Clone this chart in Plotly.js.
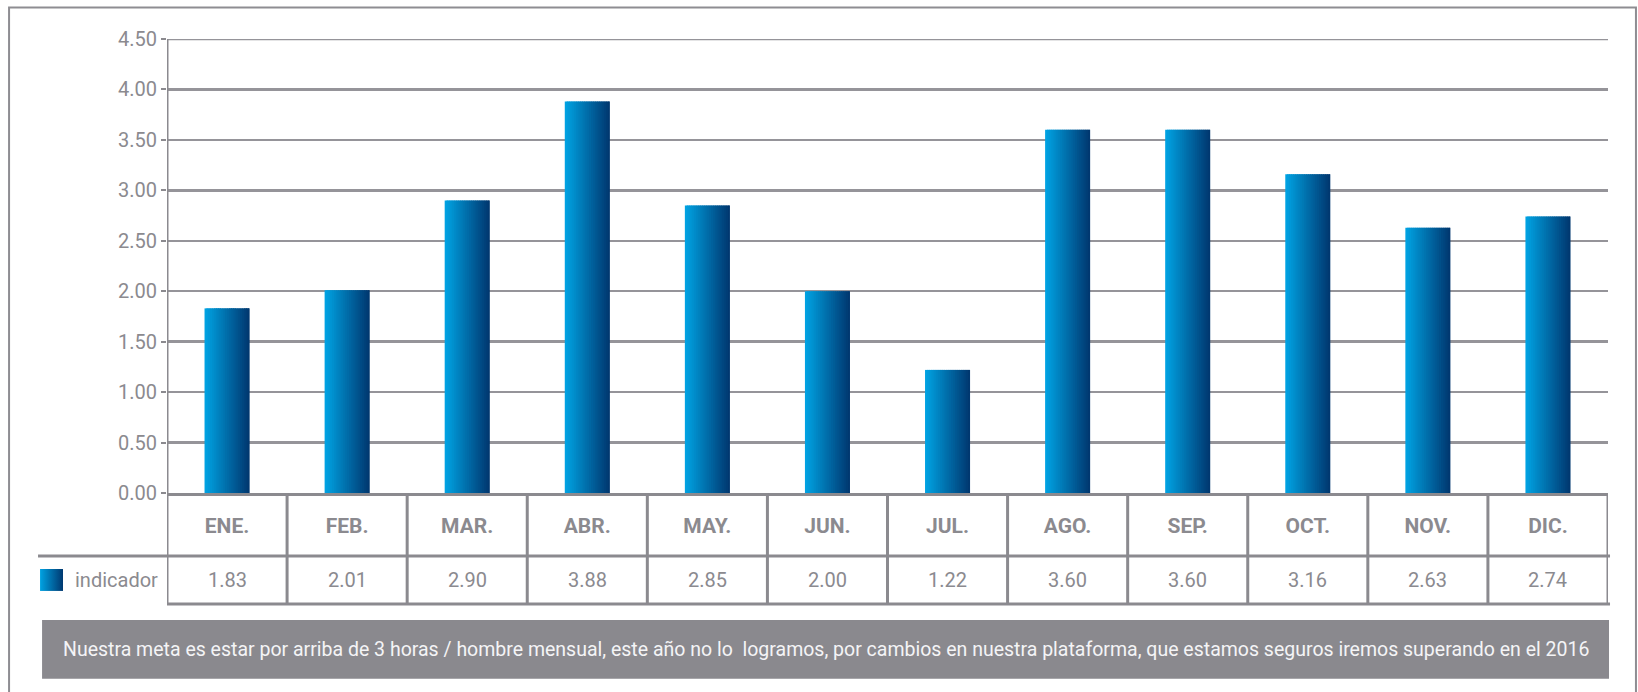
<!DOCTYPE html>
<html>
<head>
<meta charset="utf-8">
<script src="https://cdn.plot.ly/plotly-3.0.1.min.js"></script>
<style>
  body { margin: 0; background: #fff; }
  #plt { width: 1638px; height: 692px; }
</style>
</head>
<body>
<div id="plt"></div>
<script>
// monthly values (hours / man)
var months = ['ENE.', 'FEB.', 'MAR.', 'ABR.', 'MAY.', 'JUN.', 'JUL.', 'AGO.', 'SEP.', 'OCT.', 'NOV.', 'DIC.'];
var indicador = [1.83, 2.01, 2.90, 3.88, 2.85, 2.00, 1.22, 3.60, 3.60, 3.16, 2.63, 2.74];
var seriesName = 'indicador';
var yTicks = [0, 0.5, 1, 1.5, 2, 2.5, 3, 3.5, 4, 4.5];
var note = 'Nuestra meta es estar por arriba de 3 horas / hombre mensual, este año no lo  logramos, por cambios en nuestra plataforma, que estamos seguros iremos superando en el 2016';

var gray = '#8b8a8f';
var fnt = 'Roboto, "Liberation Sans", sans-serif';

// bars get a left->right gradient, so each bar is built from thin slices
var nSlices = 24;
var barW = 0.375;
var c0 = [0, 162, 226], c1 = [0, 56, 112];
var data = [];
for (var k = 0; k < nSlices; k++) {
    var t = k / (nSlices - 1);
    var col = 'rgb(' + Math.round(c0[0] + (c1[0] - c0[0]) * t) + ',' +
        Math.round(c0[1] + (c1[1] - c0[1]) * t) + ',' +
        Math.round(c0[2] + (c1[2] - c0[2]) * t) + ')';
    var sw = barW / nSlices;
    data.push({
        x: months,
        y: indicador,
        type: 'bar',
        offset: -barW / 2 + k * sw,
        width: k === nSlices - 1 ? sw : sw * 1.8,
        marker: {color: col, line: {width: 0}},
        hoverinfo: 'skip',
        showlegend: false
    });
}

// table rows below the axis (paper units)
var rowMid = -0.1386;
var rowBot = -0.2443;
var valY = -0.1915;

var shapes = [];
var annotations = [];

// outer frame
shapes.push({type: 'path', xref: 'paper', yref: 'paper',
    path: 'M -0.1096,-0.6 L -0.1096,1.0695 L 1.0194,1.0695 L 1.0194,-0.6',
    line: {color: '#8e8d92', width: 2}});

// top gridline (sits on the range edge)
shapes.push({type: 'line', xref: 'paper', yref: 'y', x0: 0, x1: 1, y0: 4.5, y1: 4.5,
    line: {color: '#959499', width: 2.5}});

// table grid
shapes.push({type: 'line', xref: 'paper', yref: 'paper', x0: -0.0895, x1: 1.0014, y0: rowMid, y1: rowMid,
    line: {color: gray, width: 3}});
shapes.push({type: 'line', xref: 'paper', yref: 'paper', x0: 0, x1: 1.0014, y0: rowBot, y1: rowBot,
    line: {color: gray, width: 3}});
for (var i = 0; i <= months.length; i++) {
    shapes.push({type: 'line', xref: 'x', yref: 'paper', x0: i - 0.5, x1: i - 0.5,
        y0: i === 0 ? 1 : 0, y1: rowBot, line: {color: gray, width: 3}});
}

// values row
for (i = 0; i < months.length; i++) {
    annotations.push({xref: 'x', yref: 'paper', x: months[i], y: valY, text: indicador[i].toFixed(2),
        showarrow: false, xanchor: 'center', yanchor: 'middle',
        font: {family: fnt, size: 20, color: gray}});
}
annotations.push({xref: 'paper', yref: 'paper', x: -0.0652, y: valY, text: seriesName,
    showarrow: false, xanchor: 'left', yanchor: 'middle',
    font: {family: fnt, size: 20, color: gray}});

// note band
shapes.push({type: 'rect', xref: 'paper', yref: 'paper', x0: -0.0867, x1: 1.0007, y0: -0.2795, y1: -0.4093,
    fillcolor: '#8a898e', line: {width: 0}, layer: 'below'});
annotations.push({xref: 'paper', yref: 'paper', x: 0.457, y: -0.3444, text: note,
    showarrow: false, xanchor: 'center', yanchor: 'middle',
    font: {family: fnt, size: 19.5, color: '#f4f4f6'}});

// legend swatch with the same gradient
var swatch = 'data:image/svg+xml;utf8,' + encodeURIComponent(
    '<svg xmlns="http://www.w3.org/2000/svg" width="23" height="22"><defs><linearGradient id="g" x1="0" x2="1" y1="0" y2="0">' +
    '<stop offset="0" stop-color="rgb(0,162,226)"/><stop offset="1" stop-color="rgb(0,56,112)"/></linearGradient></defs>' +
    '<rect width="23" height="22" fill="url(#g)"/></svg>');

var layout = {
    width: 1638,
    height: 692,
    margin: {l: 167, r: 30, t: 38.6, b: 199},
    paper_bgcolor: '#fff',
    plot_bgcolor: '#fff',
    barmode: 'overlay',
    showlegend: false,
    xaxis: {
        type: 'category',
        range: [-0.5, 11.5],
        showgrid: false,
        showline: true,
        linecolor: gray,
        linewidth: 3,
        ticks: '',
        ticklabelstandoff: 12,
        tickfont: {family: fnt, size: 21, color: gray, weight: 'bold'},
        fixedrange: true
    },
    yaxis: {
        range: [0, 4.5],
        tickvals: yTicks,
        ticktext: yTicks.map(function (v) { return v.toFixed(2); }),
        showgrid: true,
        gridcolor: '#959499',
        gridwidth: 2.5,
        zeroline: false,
        showline: false,
        ticks: 'outside',
        ticklen: 5,
        tickwidth: 2,
        tickcolor: gray,
        tickfont: {family: fnt, size: 20, color: gray},
        fixedrange: true
    },
    shapes: shapes,
    annotations: annotations,
    images: [{source: swatch, xref: 'paper', yref: 'paper', x: -0.0881, y: -0.1673,
        sizex: 0.01596, sizey: 0.0484, sizing: 'stretch', xanchor: 'left', yanchor: 'top'}]
};

var plt = document.getElementById('plt');
Plotly.newPlot(plt, data, layout, {staticPlot: true});
</script>
</body>
</html>
